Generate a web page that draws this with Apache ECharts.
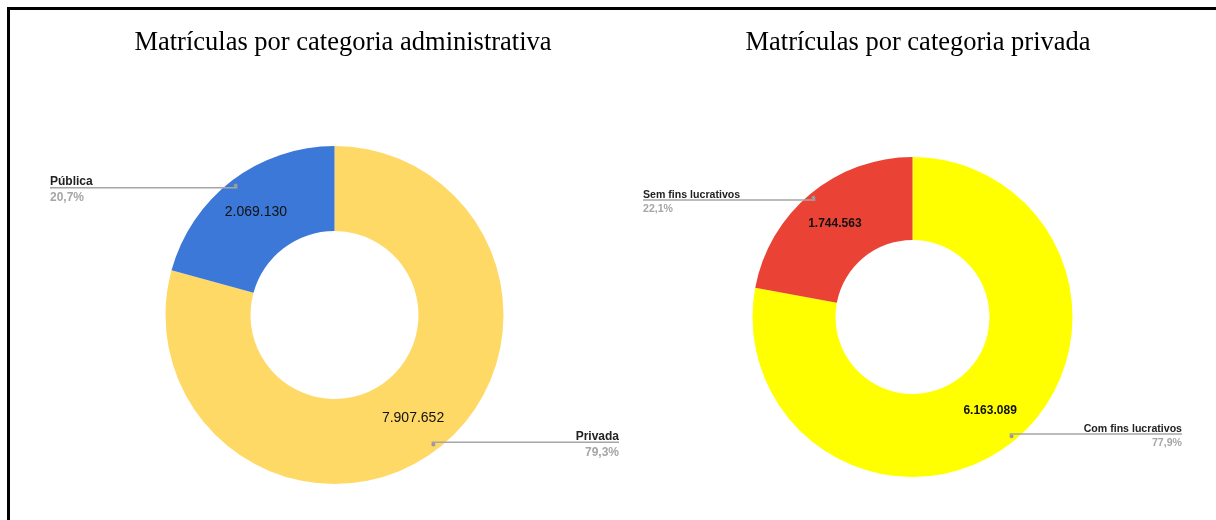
<!DOCTYPE html>
<html>
<head>
<meta charset="utf-8">
<script src="https://cdn.jsdelivr.net/npm/echarts@6/dist/echarts.min.js"></script>
<style>
  html, body { margin: 0; padding: 0; background: #fff; }
  #wrap { position: relative; width: 1216px; height: 520px; }
  #chart { width: 1216px; height: 520px; }
  #frame {
    position: absolute; left: 7px; top: 7px; right: 0; bottom: 0;
    border-left: 3px solid #000; border-top: 3px solid #000;
    pointer-events: none;
  }
</style>
</head>
<body>
<div id="wrap">
  <div id="chart"></div>
  <div id="frame"></div>
</div>
<script>
// Chart data
const adminTitle = 'Matrículas por categoria administrativa';
const adminCategories = ['Privada', 'Pública'];
const adminValues = [7907652, 2069130];
const adminColors = ['#ffd966', '#3c78d8'];

const privTitle = 'Matrículas por categoria privada';
const privCategories = ['Com fins lucrativos', 'Sem fins lucrativos'];
const privValues = [6163089, 1744563];
const privColors = ['#ffff00', '#ea4335'];

const FONT = "'Liberation Sans', Arial, sans-serif";
const SERIF = "'Liberation Serif', 'Times New Roman', serif";

// 7907652 -> "7.907.652"
function fmtNum(v) {
  return String(v).replace(/\B(?=(\d{3})+(?!\d))/g, '.');
}
function fmtPct(p) {
  return p.toFixed(1).replace('.', ',') + '%';
}

function toData(cats, vals) {
  return cats.map((c, i) => ({ name: c, value: vals[i] }));
}

let chart;

// Leader line: starts at the slice's mid angle, runs flat under the whole label
function leaderLayout(params) {
  const r = params.labelRect;
  const lay = chart.getModel().getSeriesByIndex(params.seriesIndex)
    .getData().getItemLayout(params.dataIndex);
  if (!lay) return {};
  const mid = (lay.startAngle + lay.endAngle) / 2;
  const p0 = [lay.cx + lay.r * Math.cos(mid), lay.cy + lay.r * Math.sin(mid)];
  const onLeft = r.x + r.width / 2 < p0[0];
  const end = onLeft ? r.x : r.x + r.width;
  return {
    y: p0[1],
    verticalAlign: 'middle',
    labelLinePoints: [p0, p0, [end, p0[1]]]
  };
}

// Build the three series of one donut: ring, outside labels, dots
function donut(cfg) {
  const data = toData(cfg.categories, cfg.values);
  const total = cfg.values.reduce((a, b) => a + b, 0);
  const box = { left: cfg.left, width: cfg.width, top: 0, height: 520 };
  const center = ['50%', cfg.cy];
  const common = Object.assign({
    type: 'pie', center: center, startAngle: 90, clockwise: true,
    avoidLabelOverlap: false, animation: false
  }, box);

  const ring = Object.assign({}, common, {
    z: 1,
    radius: [cfg.r0, cfg.r],
    color: cfg.colors,
    itemStyle: { borderWidth: 0 },
    emphasis: { disabled: true },
    label: {
      show: true, position: 'inside',
      formatter: p => fmtNum(p.value),
      color: '#111',
      fontFamily: FONT,
      fontSize: cfg.valueSize,
      fontWeight: cfg.valueWeight,
      padding: [cfg.valuePad, 0, 0, 0]
    },
    labelLine: { show: false },
    data: data
  });

  const labels = Object.assign({}, common, {
    z: 3,
    radius: [0, cfg.rDot],
    silent: true,
    itemStyle: { color: 'transparent' },
    emphasis: { disabled: true },
    label: {
      show: true, position: 'outside',
      alignTo: 'edge', edgeDistance: 0,
      padding: [4, 0, 0, 0],
      formatter: p => '{n|' + p.name + '}\n{p|' + fmtPct(p.value / total * 100) + '}',
      rich: {
        n: { fontFamily: FONT, fontSize: cfg.labelSize, fontWeight: 'bold', color: '#222', lineHeight: cfg.labelSize + 4 },
        p: { fontFamily: FONT, fontSize: cfg.labelSize, fontWeight: 'bold', color: '#a6a6a6', lineHeight: cfg.labelSize + 4 }
      }
    },
    labelLine: {
      show: true, length: 0, length2: 10, smooth: false,
      lineStyle: { color: '#a6a6a6', width: 1.5 }
    },
    labelLayout: leaderLayout,
    data: data
  });

  const dots = Object.assign({}, common, {
    z: 4,
    radius: [cfg.rDot - 1, cfg.rDot + 1],
    silent: true,
    itemStyle: { color: 'transparent' },
    emphasis: { disabled: true },
    label: {
      show: true, position: 'inside',
      fontSize: 4, lineHeight: 4,
      formatter: '{d|}',
      rich: { d: { width: 4, height: 4, lineHeight: 4, borderRadius: 2, backgroundColor: '#9a9a9a' } }
    },
    labelLine: { show: false },
    data: data
  });

  return [ring, labels, dots];
}

chart = echarts.init(document.getElementById('chart'));

const option = {
  backgroundColor: '#fff',
  title: [
    {
      text: adminTitle, left: 338, top: 25, textAlign: 'center',
      textStyle: { fontFamily: SERIF, fontSize: 26.5, fontWeight: 'normal', color: '#000' }
    },
    {
      text: privTitle, left: 913, top: 25, textAlign: 'center',
      textStyle: { fontFamily: SERIF, fontSize: 26.5, fontWeight: 'normal', color: '#000' }
    }
  ],
  series: [].concat(
    donut({
      categories: adminCategories, values: adminValues, colors: adminColors,
      left: 50, width: 569, cy: 315, r0: 84, r: 169, rDot: 160,
      valueSize: 14, valueWeight: 'normal', valuePad: 4, labelSize: 12
    }),
    donut({
      categories: privCategories, values: privValues, colors: privColors,
      left: 643, width: 539, cy: 317, r0: 77, r: 160, rDot: 152,
      valueSize: 12, valueWeight: 'bold', valuePad: 5, labelSize: 10.6
    })
  )
};

chart.setOption(option);
window.addEventListener('resize', () => chart.resize());
</script>
</body>
</html>
